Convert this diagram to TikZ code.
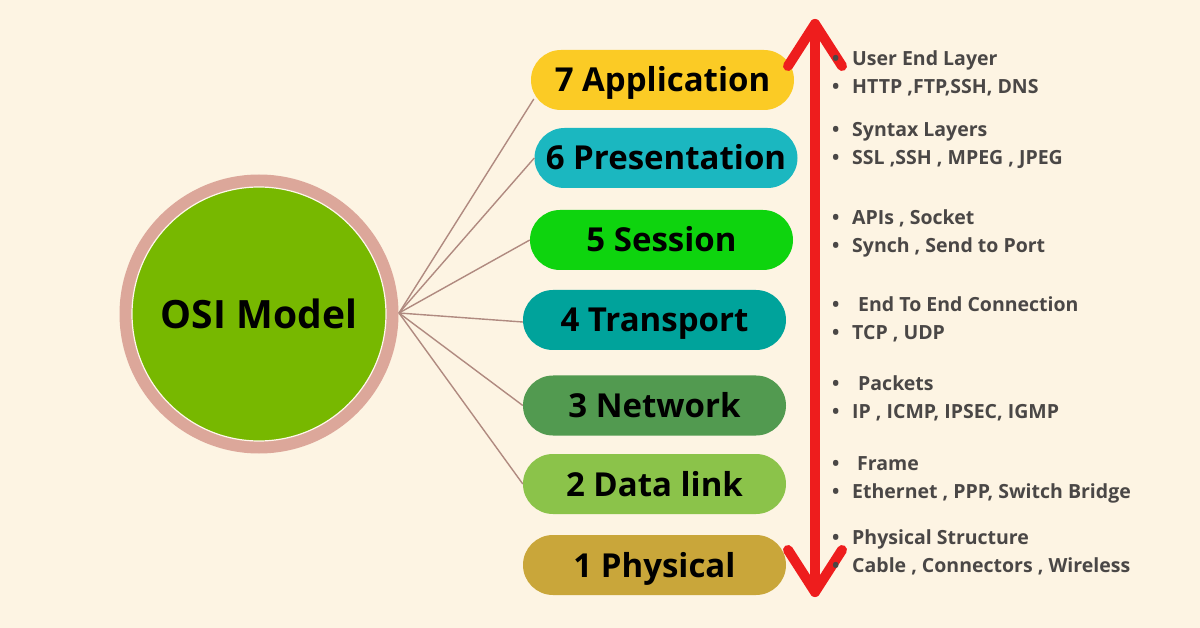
\documentclass[tikz,border=0pt]{standalone}
\usepackage{fontspec}
\setmainfont{Open Sans}
\newfontfamily\bulfont{Open Sans}
\definecolor{bg}{HTML}{FDF4E3}
\definecolor{ring}{HTML}{DCA79A}
\definecolor{osigreen}{HTML}{77B800}
\definecolor{cline}{HTML}{B08A80}
\definecolor{cseven}{HTML}{FBCB25}
\definecolor{csix}{HTML}{1BB7C0}
\definecolor{cfive}{HTML}{0ED40E}
\definecolor{cfour}{HTML}{00A39B}
\definecolor{cthree}{HTML}{529A50}
\definecolor{ctwo}{HTML}{8BC34A}
\definecolor{cone}{HTML}{C9A63A}
\definecolor{arrred}{HTML}{EE1D1D}
\definecolor{btxt}{HTML}{4A4746}
\tikzset{
  pill/.style={draw=none, rounded corners=30pt, minimum width=263pt, minimum height=60pt,
    inner sep=0pt, text height=30pt, text depth=6pt,
    font=\fontsize{33}{33}\selectfont\bfseries, text=black},
  conn/.style={draw=cline, line width=1.4pt},
  redline/.style={draw=arrred, line width=10pt, line cap=round, line join=round},
  bul/.style={anchor=base west, inner sep=0pt, text=btxt, font=\bulfont\fontsize{19.5}{19.5}\selectfont\bfseries},
}
\begin{document}
\begin{tikzpicture}[x=1pt,y=-1pt]
\fill[bg] (0,0) rectangle (1200,628);
\useasboundingbox (0,0) rectangle (1200,628);
% circle
\node[circle, fill=ring, minimum size=279pt, inner sep=0pt] (ring) at (259,314) {};
\node[circle, fill=osigreen, draw=bg!70!white, line width=1.2pt, minimum size=254pt, inner sep=0pt,
  font=\fontsize{39}{39}\selectfont\bfseries] (osi) at (259,314) {OSI Model};
\coordinate (hub) at (399,313);
% pills
\node[pill, fill=cseven] (p7) at (662.5,80) {7 Application};
\node[pill, fill=csix] (p6) at (666,158) {6 Presentation};
\node[pill, fill=cfive] (p5) at (661.5,240) {5 Session};
\node[pill, fill=cfour] (p4) at (654.5,320) {4 Transport};
\node[pill, fill=cthree] (p3) at (654.5,405.5) {3 Network};
\node[pill, fill=ctwo] (p2) at (654.5,484) {2 Data link};
\node[pill, fill=cone] (p1) at (654.5,565) {1 Physical};
% connectors
\draw[conn] (hub) -- ([shift={(3,19)}]p7.west);
\draw[conn] (hub) -- (p6.west);
\draw[conn] (hub) -- (p5.west);
\draw[conn] (hub) -- ([yshift=-2]p4.west);
\draw[conn] (hub) -- (p3.west);
\draw[conn] (hub) -- (p2.west);
% red double arrow
\coordinate (atop) at (815,24);
\coordinate (abot) at (815,592);
\coordinate (tl) at (788,66);
\coordinate (tr) at (842,66);
\coordinate (bl) at (788,550);
\coordinate (br) at (842,550);
\draw[redline] (atop) -- (abot);
\draw[redline] (tl) -- (atop) -- (tr);
\draw[redline] (bl) -- (abot) -- (br);
% bullets
\foreach \y/\dx/\t in {
  59/0/User End Layer,
  87/0/{HTTP ,FTP,SSH, DNS},
  130/0/Syntax Layers,
  158/0/{SSL ,SSH , MPEG , JPEG},
  218/0/{APIs , Socket},
  246/0/{Synch , Send to Port},
  305/6/End To End Connection,
  333/0/{TCP , UDP},
  384/6/Packets,
  411/0/{IP , ICMP, IPSEC, IGMP},
  463/5/Frame,
  491/0/{Ethernet , PPP, Switch Bridge},
  537/0/Physical Structure,
  565/0/{Cable , Connectors , Wireless}} {
  \node[bul] at (832,\y+7) {\textbullet};
  \node[bul] at (852+\dx,\y+7) {\t};
}
\end{tikzpicture}
\end{document}
